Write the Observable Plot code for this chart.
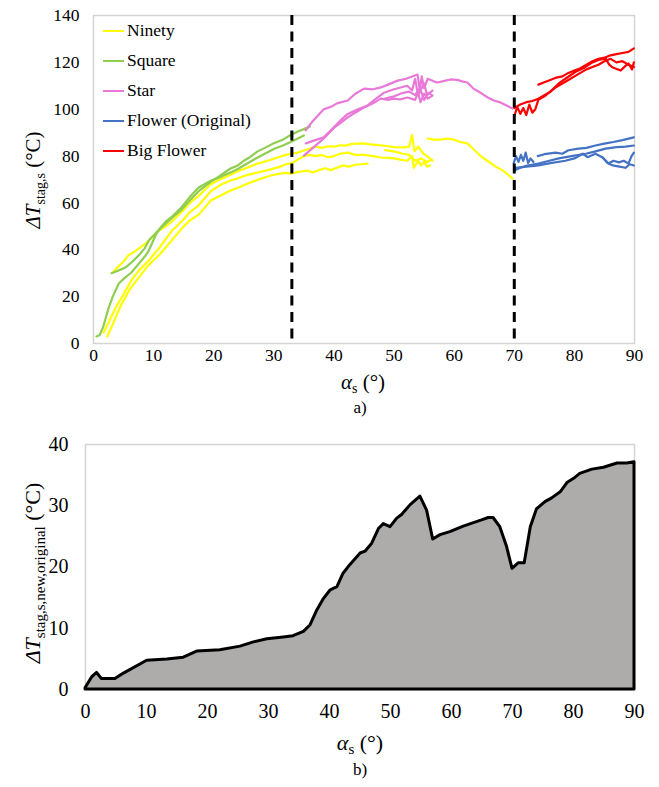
<!DOCTYPE html>
<html><head><meta charset="utf-8">
<script src="https://cdn.jsdelivr.net/npm/d3@7"></script>
<script src="https://cdn.jsdelivr.net/npm/@observablehq/plot@0.6"></script>
<style>
body{margin:0;background:#fff;font-family:'Liberation Serif';}
#wrap{position:relative;width:659px;height:787px;font-family:'Liberation Serif';color:#000;}
#wrap svg{position:absolute;left:0;overflow:visible;}
.cap{position:absolute;width:60px;text-align:center;font-size:17px;line-height:20px;}
.leg{position:absolute;left:103px;height:20px;line-height:20px;font-size:17.5px;white-space:nowrap;}
.leg span{display:inline-block;width:21px;height:2px;vertical-align:middle;margin-right:3px;position:relative;top:-1px;}
</style></head><body><div id="wrap"></div>
<script>
// ---------- panel a) data ----------
const seriesNames = ["Ninety","Square","Star","Flower (Original)","Big Flower"];
const seriesColors = ["#ffff00","#8fce4f","#e879d8","#4472c4","#ff0000"];
const xTicks = [0,10,20,30,40,50,60,70,80,90];
const yTicksTop = [0,20,40,60,80,100,120,140];
const dashedAt = [33,70];

const ninetyA = [[3.2,30.3],[4,32.5],[5,35],[5.8,37.6],[7,39.5],[8.7,42.7],[9.8,45.5],[10.8,48],[12,50],[13,52],[14,54.5],[15,57],[16,60],[17.5,63],[18.5,65.5],[19.5,68],[21,70],[22.8,72],[24,73.5],[25,74.5],[26,75.5],[27.3,76.8],[29,78],[30.6,79.4],[32,80.5],[32.8,81],[34,81.5],[35,82.4],[36,83.2],[37,84],[38,83.5],[39,84.2],[40,84],[41,84.6],[42,84.5],[43,85.2],[44.9,85.4],[46,85],[47,84.8],[48,84.5],[49,84.2],[50,83.8],[51.6,83.7],[52.5,84],[53,89],[53.4,82],[54,84],[54.9,81],[55.5,80],[56.4,78]];
const ninetyB = [[1.7,4.7],[2.5,9],[3.7,15.4],[5,21],[6.3,27],[7.5,31],[9.2,35.4],[10,38],[11,41],[12,44.5],[13,48],[14,50.5],[15,53],[16,56],[17.5,59],[18.5,62],[19.5,65],[21,67.5],[22.8,69.6],[24,70.5],[25,71.5],[26,72.2],[27.3,73],[29,74],[31.1,75.5],[32,76.5],[33,77],[34,78.5],[35,80],[36,80.5],[37,80],[38,80.5],[39,79.5],[40,80],[41,81],[42.3,81.5],[43.5,80.5],[45,80.5],[46.5,80],[47.8,79.4],[49,79.2],[50,79],[51,78.5],[52.2,78],[53,80],[53.3,75],[54,78],[54.5,76],[55,77.5],[55.5,75.5],[56,76]];
const ninetyC = [[2.3,3],[3,7],[4,13],[4.5,16],[6,23],[7.5,28],[9,33],[10,35.5],[11,38],[12,41],[13,44],[14,47],[15,50],[16,52.5],[17.5,55],[18.5,58],[19.5,61],[21,63],[22.8,65.3],[24,66.5],[26.1,68.7],[28,70.5],[29.5,71.7],[31,72.5],[32,72.8],[32.8,72.5],[34,73.2],[35.6,73.8],[36.5,73],[37.5,74],[38.5,74.8],[39.5,74],[40.5,75],[41.5,76],[42.5,75.5],[43.5,76.3],[44.5,76.5],[45.6,76.8]];
const ninetyD = [[48.5,82.5],[50,82],[51.5,81],[52.5,80.5],[53.5,78],[54.5,79],[55.5,77.5],[56.3,78.5]];
const ninetyE = [[55.6,87.5],[56.5,87],[57.7,87],[58.9,87.5],[60,87],[61,86],[62.2,85.4],[63.2,83],[64.4,80],[65.5,78],[66.9,75.5],[68,74],[69,72],[69.7,70.4]];

const squareA = [[0.5,3],[1,3.5],[1.6,7],[2.5,15],[3.2,20],[4.2,25.6],[5.2,28],[6.3,30.3],[7.5,34],[8.5,37],[9.2,39.7],[10.3,46],[11,49],[12,52],[13,54],[14.6,58],[16,62.5],[17.5,66.6],[19.5,69.5],[21,71],[22.8,73],[24,74.5],[25,76],[26,77.5],[27.3,79.4],[28.5,81],[30,83],[31.5,84.5],[32.8,86],[34,87.5],[35,88.8]];
const squareB = [[3,30],[4,31],[5.3,32.4],[6.5,35],[7.5,37.6],[8.5,40.5],[9.2,44],[10.3,47],[11.5,50],[13,53.5],[14.6,57],[16,61],[17.5,65],[19.5,69],[21,71.5],[22.8,74.7],[24,76],[25,78],[26,79.5],[27.3,82],[28.5,83.5],[30,85.5],[31.5,87],[32.8,89],[34,90.5],[35,91.5],[36,92.6]];

const starA = [[35.3,91],[36.5,95],[38.3,100],[39.5,101],[40.5,102.5],[42.3,103.7],[43.5,106.5],[45,108.8],[46.5,108.5],[47.8,109.3],[49,110.5],[50.6,112.2],[52,113],[53.9,114.8],[54.3,108],[54.6,114],[55,109],[55.6,113],[56.5,112],[57.2,111.4],[58.2,112],[59.4,112.7],[60.5,112.5],[61.5,111.8],[62.2,111.4],[63.2,108.8],[64.4,107],[65.6,105],[66.6,103.7],[67.7,102.9],[68.8,101.5],[69.7,100.3]];
const starB = [[35.3,85.4],[36.5,86.5],[38.3,88],[39.5,91],[41,95],[42.3,98],[44,100],[45.6,101.6],[47,104.5],[48.3,107],[50,108.5],[52.2,110],[53,108],[53.5,113],[54,106],[54.4,108],[55,111],[55.5,106],[56.4,108]];
const starC = [[35,80.2],[36.5,83.5],[38.3,87.5],[40,92],[42.3,96.5],[43.5,98.5],[45,100.7],[46.5,102.5],[47.8,104.5],[49,104],[50,104.5],[51,104.2],[52.2,105],[53.5,104],[54,107],[54.4,103],[55,106.7],[55.6,104.5],[56.4,105.8]];
const starD = [[48.5,104.5],[50,105.5],[51.5,107],[52.5,107.5],[53.5,106],[54.3,109],[55,104],[55.7,107],[56.3,106]];

const flowerA = [[69.9,77],[70.3,80],[70.7,77.5],[71.1,80.5],[71.5,78],[71.9,81.5],[72.3,77],[72.7,79],[73.2,77.5]];
const flowerB = [[73.9,80],[75,80.8],[76.9,81.5],[78,81],[79,82.5],[80.7,83.2],[82,83.5],[83.5,84.5],[85.2,85.4],[86.5,86],[88,86.8],[89.9,88]];
const flowerC = [[70,73.8],[71,75],[72,75.8],[74,76.8],[75.5,77.8],[77.4,79],[79.5,80],[81.9,81],[83.5,82],[85.2,83.2],[87,83.8],[88.5,84],[89.9,84.5]];
const flowerD = [[70.2,75],[72,75.5],[74,76],[76,77],[78.5,78],[80,79],[81.4,81],[82.2,79.5],[83.5,81],[84.7,79.4],[85.7,76.8],[86.5,78],[87.4,77.3],[88.2,78],[89,76.8],[89.5,80],[89.9,81.5]];
const flowerE = [[84.7,79.4],[85.5,77],[86.4,76],[87.5,75.5],[88.5,75],[89.2,76.5],[89.9,76]];

const bigA = [[74,110.5],[75,111.5],[76,112.5],[77,113.5],[78,114],[79,115.5],[80,116.5],[81,117.5],[82,119],[83,120.5],[84,121.5],[85,122],[86,123],[87,123.5],[88,124],[89,124.5],[89.9,126]];
const bigB = [[70,97],[70.5,101],[71,98],[71.5,100.5],[72,97.5],[72.5,102],[73,98.5],[73.5,100],[74,104],[75,105.5],[76,107.5],[77.4,111],[78.5,113],[80.2,116],[81.5,117.5],[83,120],[84,121],[85.2,121.6],[85.8,119],[86.4,117.8],[87.7,116.5],[88.5,118.5],[89,119.5],[89.6,117],[89.9,120]];
const bigC = [[70,100.5],[71,102],[72,103],[73,103.5],[74,104.5],[75,106],[76,107.5],[77,109.5],[78,111],[79,112.5],[80,114],[81,115.5],[82,117],[83,118],[84,119],[85,120.5],[86,121.5],[87,120],[88,120.5],[89,119],[89.9,118]];

// ---------- panel b) data ----------
const yTicksBottom = [0,10,20,30,40];
const deltaX = [0,1.1,1.9,2.7,4.9,6.3,10.1,13.4,16.1,18.3,22.1,25.4,27.6,29.8,32.5,34.1,35.8,36.9,38,39.1,40.2,41.3,42.3,43.4,45.1,45.9,47,48.1,48.9,50,51.1,51.9,53.3,54.9,56,57,58.2,59.8,62,65,66.1,66.9,68,69.1,70,71,72,73,74,75.4,76.5,77.9,79,80.1,81.1,83.1,85,87.2,88.8,90];
const deltaY = [0.2,2,2.7,1.7,1.7,2.6,4.7,4.9,5.2,6.2,6.4,7,7.7,8.2,8.5,8.7,9.4,10.5,12.9,14.8,16.2,16.7,18.9,20.3,22.2,22.5,23.8,26.2,27,26.5,27.9,28.5,30.1,31.5,29.2,24.5,25.2,25.7,26.6,27.6,28,28,26.5,23.3,19.7,20.6,20.6,26.5,29.4,30.6,31.2,32.2,33.7,34.4,35.2,35.9,36.2,36.9,36.9,37.1];

// ---------- build tables ----------
const runs = [
  ["Ninety","n1",ninetyA],["Ninety","n2",ninetyB],["Ninety","n3",ninetyC],["Ninety","n4",ninetyD],["Ninety","n5",ninetyE],
  ["Square","s1",squareA],["Square","s2",squareB],
  ["Star","t1",starA],["Star","t2",starB],["Star","t3",starC],["Star","t4",starD],
  ["Flower (Original)","f1",flowerA],["Flower (Original)","f2",flowerB],["Flower (Original)","f3",flowerC],["Flower (Original)","f4",flowerD],["Flower (Original)","f5",flowerE],
  ["Big Flower","b1",bigA],["Big Flower","b2",bigB],["Big Flower","b3",bigC]
];
const rows = runs.flatMap(([series,run,pts]) => pts.map(([x,y]) => ({series,run,x,y})));
const areaRows = deltaX.map((x,i) => ({x, y: deltaY[i]}));

const wrap = document.getElementById("wrap");
const FONT = "Liberation Serif";

function serifAll(svg) {
  d3.select(svg).attr("font-family", FONT).style("font-family", "'Liberation Serif'");
  d3.select(svg).selectAll("text, tspan").attr("font-family", FONT).style("font-family", "'Liberation Serif'");
}

// ---------- panel a ----------
const topPlot = Plot.plot({
  width: 659, height: 400,
  marginTop: 15, marginBottom: 57, marginLeft: 93, marginRight: 25,
  style: {fontSize: "17.5px", color: "#000", background: "transparent"},
  x: {domain: [0,90], ticks: xTicks, tickSize: 0, tickPadding: 5, label: null},
  y: {domain: [0,140], ticks: yTicksTop, tickSize: 0, tickPadding: 14, label: null},
  color: {domain: seriesNames, range: seriesColors},
  marks: [
    Plot.frame({stroke: "#d4d4d4", strokeWidth: 1.5}),
    Plot.line(rows, {x: "x", y: "y", z: "run", stroke: "series", strokeWidth: 2.2}),
    Plot.ruleX(dashedAt, {stroke: "#000", strokeWidth: 3, strokeDasharray: "10,6.5"})
  ]
});
topPlot.style.top = "0px";
wrap.appendChild(topPlot);

function addLabels(svg, xl, yl) {
  const s = d3.select(svg);
  const tx = s.append("text").attr("x", xl.x).attr("y", xl.y).attr("text-anchor","middle")
    .attr("font-size", xl.size).attr("fill","#000");
  tx.append("tspan").attr("font-style","italic").text("α");
  tx.append("tspan").attr("font-size", xl.sub).attr("dy", 4).text("s");
  tx.append("tspan").attr("dy", -4).text(" (°)");
  const ty = s.append("text").attr("transform", `translate(${yl.x},${yl.y}) rotate(-90)`).attr("text-anchor","middle")
    .attr("font-size", yl.size).attr("fill","#000");
  ty.append("tspan").attr("font-style","italic").text("ΔT");
  ty.append("tspan").attr("font-size", yl.sub).attr("dy", 5).text(yl.subText);
  ty.append("tspan").attr("dy", -5).text(" (°C)");
  serifAll(svg);
}
addLabels(topPlot, {x: 363, y: 389, size: 21, sub: 14}, {x: 40, y: 180, size: 21, sub: 14, subText: "stag,s"});

// legend
seriesNames.forEach((name, i) => {
  const d = document.createElement("div");
  d.className = "leg";
  d.style.top = (20 + 30 * i) + "px";
  d.style.fontFamily = "'Liberation Serif'";
  const sw = document.createElement("span");
  sw.style.background = seriesColors[i];
  d.appendChild(sw);
  d.appendChild(document.createTextNode(name));
  wrap.appendChild(d);
});

const capA = document.createElement("div");
capA.className = "cap"; capA.style.left = "330px"; capA.style.top = "398px"; capA.style.fontFamily = "'Liberation Serif'"; capA.textContent = "a)";
wrap.appendChild(capA);

// ---------- panel b ----------
const botPlot = Plot.plot({
  width: 659, height: 340,
  marginTop: 24, marginBottom: 71, marginLeft: 85, marginRight: 25,
  style: {fontSize: "20px", color: "#000", background: "transparent"},
  x: {domain: [0,90], ticks: xTicks, tickSize: 0, tickPadding: 14, label: null},
  y: {domain: [0,40], ticks: yTicksBottom, tickSize: 0, tickPadding: 17, label: null},
  marks: [
    Plot.frame({stroke: "#d4d4d4", strokeWidth: 1.5}),
    Plot.areaY(areaRows, {x: "x", y: "y", fill: "#aeabab", stroke: "#000", strokeWidth: 3, strokeLinejoin: "round"})
  ]
});
botPlot.style.top = "420px";
wrap.appendChild(botPlot);
addLabels(botPlot, {x: 360, y: 330, size: 22, sub: 15}, {x: 40, y: 153, size: 22, sub: 15, subText: "stag,s,new,original"});

const capB = document.createElement("div");
capB.className = "cap"; capB.style.left = "330px"; capB.style.top = "760px"; capB.style.fontFamily = "'Liberation Serif'"; capB.textContent = "b)";
wrap.appendChild(capB);
</script>
</body></html>
